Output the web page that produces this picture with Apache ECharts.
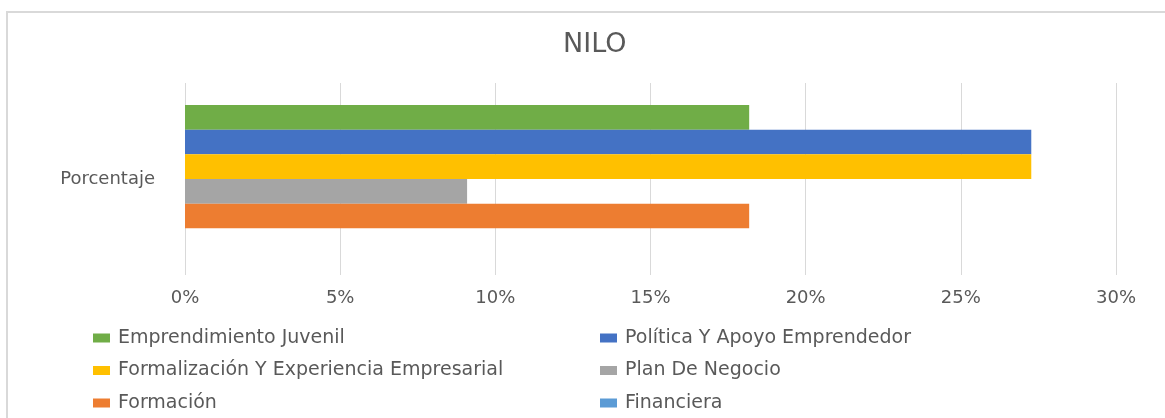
<!DOCTYPE html>
<html>
<head>
<meta charset="utf-8">
<script src="https://cdn.jsdelivr.net/npm/echarts@6/dist/echarts.min.js"></script>
<style>
  html, body { margin: 0; padding: 0; background: #fff; }
  #chart { width: 1165px; height: 418px; }
</style>
</head>
<body>
<div id="chart"></div>
<script>
    var categories = ["Porcentaje"];
    var seriesNames = [
        "Emprendimiento Juvenil",
        "Política Y Apoyo Emprendedor",
        "Formalización Y Experiencia Empresarial",
        "Plan De Negocio",
        "Formación",
        "Financiera"
    ];
    var seriesValues = [18.18, 27.27, 27.27, 9.09, 18.18, 0];
    var seriesColors = ["#70AD47", "#4472C4", "#FFC000", "#A5A5A5", "#ED7D31", "#5B9BD5"];
    var xTicks = [0, 5, 10, 15, 20, 25, 30];

    var font = "DejaVu Sans";
    var textColor = "#595959";

    var chart = echarts.init(document.getElementById("chart"));

    var series = seriesNames.map(function(name, i) {
        return {
            name: name,
            type: "bar",
            data: [seriesValues[i]],
            itemStyle: { color: seriesColors[i] },
            barGap: "0%",
            barCategoryGap: "23%"
        };
    });

    var legendText = { fontFamily: font, fontSize: 19, color: textColor, lineHeight: 22, padding: [0, 0, 0, 3] };

    function legendAt(names, x) {
        return {
            data: names,
            orient: "vertical",
            left: x,
            top: 322,
            height: 110,
            icon: "rect",
            itemWidth: 17,
            itemHeight: 9,
            itemGap: 10.5,
            textStyle: legendText
        };
    }

    var option = {
        animation: false,
        title: {
            text: "NILO",
            left: 558,
            top: 26,
            textStyle: { fontFamily: font, fontSize: 27, fontWeight: "normal", color: textColor }
        },
        graphic: [{
            type: "rect",
            shape: { x: 7, y: 12, width: 1200, height: 450 },
            style: { fill: "none", stroke: "#d9d9d9", lineWidth: 2 }
        }],
        legend: [
            legendAt([seriesNames[0], seriesNames[2], seriesNames[4]], 88),
            legendAt([seriesNames[1], seriesNames[3], seriesNames[5]], 595)
        ],
        grid: { left: 185, right: 49, top: 83, bottom: 143 },
        xAxis: {
            type: "value",
            min: xTicks[0],
            max: xTicks[xTicks.length - 1],
            interval: 5,
            axisLine: { show: false },
            axisTick: { show: false },
            splitLine: { lineStyle: { color: "#d9d9d9", width: 1 } },
            axisLabel: {
                margin: 14,
                fontFamily: font, fontSize: 18, color: textColor,
                formatter: function(v) { return v + "%"; }
            }
        },
        yAxis: {
            type: "category",
            data: categories,
            inverse: true,
            axisLine: { show: false },
            axisTick: { show: false },
            axisLabel: { margin: 30, fontFamily: font, fontSize: 18, color: textColor }
        },
        series: series
    };
    chart.setOption(option);
</script>
</body>
</html>
